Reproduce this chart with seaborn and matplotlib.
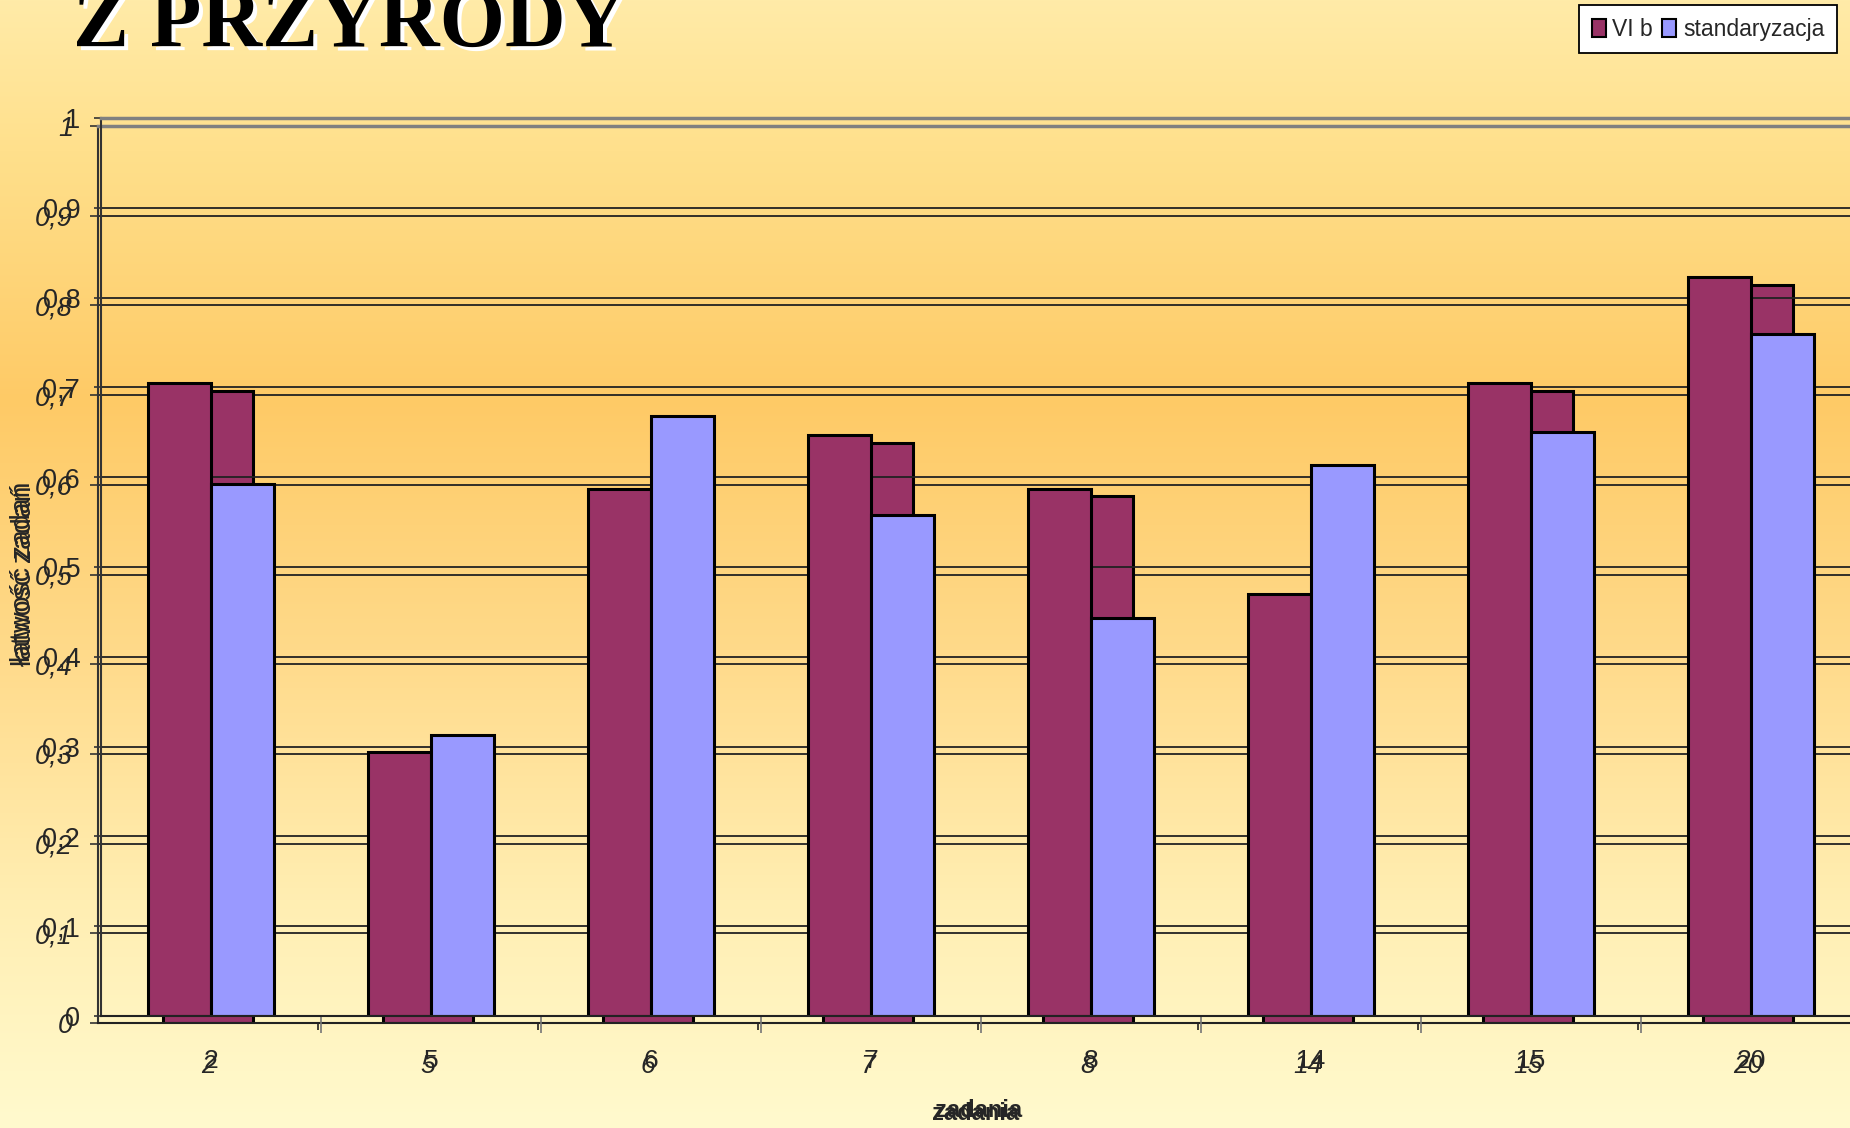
import numpy as np
import pandas as pd
import matplotlib
matplotlib.use("Agg")
import matplotlib.pyplot as plt
import seaborn as sns
from matplotlib import font_manager
from matplotlib.patches import Patch
from matplotlib.ticker import FixedLocator

# ---------------- data ----------------
zadania = ['2', '5', '6', '7', '8', '14', '15', '20']
vi_b = [0.705, 0.294, 0.587, 0.647, 0.587, 0.470, 0.705, 0.823]
standaryzacja = [0.592, 0.313, 0.668, 0.558, 0.443, 0.614, 0.650, 0.759]
series_names = ['VI b', 'standaryzacja']
yticks = [0.0, 0.1, 0.2, 0.3, 0.4, 0.5, 0.6, 0.7, 0.8, 0.9, 1.0]
ytick_labels = ['0', '0,1', '0,2', '0,3', '0,4', '0,5', '0,6', '0,7', '0,8', '0,9', '1']
title = 'Z PRZYRODY'
xlabel = 'zadania'
ylabel = 'łatwość zadań'

MAROON = '#993366'
BLUE = '#9999FF'

sns.set_theme(style='white')
available = {f.name for f in font_manager.fontManager.ttflist}
sans = 'Liberation Sans' if 'Liberation Sans' in available else 'DejaVu Sans'
narrow = 'Liberation Sans Narrow' if 'Liberation Sans Narrow' in available else sans
serif = 'Liberation Serif' if 'Liberation Serif' in available else 'DejaVu Serif'
plt.rcParams['font.family'] = [sans, 'DejaVu Sans']

W, H = 1850, 1128
fig = plt.figure(figsize=(W / 100, H / 100), dpi=100)


def px_rect(left, top, right, bottom):
    return [left / W, 1 - bottom / H, (right - left) / W, (bottom - top) / H]


# ---------------- background gradient ----------------
bg = fig.add_axes([0, 0, 1, 1], zorder=-10)
ys = np.arange(H)
stops_y = [0, 150, 400, 650, 900, H]
stops_c = np.array([[255, 235, 168], [255, 224, 140], [254, 202, 102],
                    [255, 218, 138], [255, 238, 178], [255, 250, 206]]) / 255.0
grad = np.stack([np.interp(ys, stops_y, stops_c[:, i]) for i in range(3)], axis=-1)
bg.imshow(grad[:, None, :], aspect='auto', extent=[0, 1, 0, 1])
bg.axis('off')

# ---------------- axes (back copy + front copy) ----------------
back = fig.add_axes(px_rect(98, 126, 1858, 1023), zorder=1)
front = fig.add_axes(px_rect(101, 118, 1861, 1016), zorder=2)

sns.barplot(x=zadania, y=vi_b, color=MAROON, saturation=1, width=0.41,
            edgecolor='black', linewidth=2.2, ax=back)

df = pd.DataFrame({
    'zadanie': zadania * 2,
    'wartosc': vi_b + standaryzacja,
    'seria': [series_names[0]] * len(zadania) + [series_names[1]] * len(zadania),
})
sns.barplot(data=df, x='zadanie', y='wartosc', hue='seria', order=zadania,
            hue_order=series_names, palette=[MAROON, BLUE], saturation=1,
            width=0.573, edgecolor='black', linewidth=2.2, ax=front, legend=False)

for ax, italic in ((back, True), (front, False)):
    ax.set_facecolor('none')
    ax.set_xlim(-0.5, 7.5)
    ax.set_ylim(0, 1)
    ax.set_yticks(yticks)
    ax.set_yticklabels(ytick_labels)
    ax.set_xticks(range(len(zadania)))
    ax.set_xticklabels(zadania)
    ax.yaxis.grid(True, color='#222222', lw=1.3)
    ax.xaxis.grid(False)
    ax.set_axisbelow(True)
    ax.spines['right'].set_visible(False)
    ax.spines['top'].set_color('#808080')
    ax.spines['top'].set_linewidth(2.5)
    ax.spines['left'].set_color('#333333')
    ax.spines['left'].set_linewidth(1.5)
    ax.spines['bottom'].set_color('#222222')
    ax.spines['bottom'].set_linewidth(1.5)
    ax.xaxis.set_minor_locator(FixedLocator([i + 0.5 for i in range(len(zadania) - 1)]))
    ax.set_xlabel('')
    ax.set_ylabel('')
    if italic:
        for lab in ax.get_yticklabels() + ax.get_xticklabels():
            lab.set_style('italic')

front.tick_params(axis='y', which='major', direction='out', length=5, width=1.2,
                  color='#333333', labelsize=19.5, pad=10, left=True)
back.tick_params(axis='y', which='major', direction='out', length=6, width=1.2,
                 color='#333333', labelsize=19.5, pad=12, left=True)
front.tick_params(axis='x', which='major', length=0, labelsize=19, pad=24)
back.tick_params(axis='x', which='major', length=0, labelsize=19, pad=22)
front.tick_params(axis='x', which='minor', direction='out', length=12, width=1.2,
                  color='#777777', bottom=True)
back.tick_params(axis='x', which='minor', direction='out', length=5, width=1.2,
                 color='#222222', bottom=True)

# axis titles (doubled like the original)
front.set_xlabel(xlabel, fontsize=17, fontweight='bold')
front.xaxis.set_label_coords((979 - 101) / 1760, (1016 - 1099) / 898)
back.set_xlabel(xlabel, fontsize=17, fontweight='bold')
back.xaxis.set_label_coords((976 - 98) / 1760, (1023 - 1102) / 897)
front.set_ylabel(ylabel, fontsize=20.5)
front.yaxis.set_label_coords((36 - 101) / 1760, (1016 - 572) / 898)
back.set_ylabel(ylabel, fontsize=20.5)
back.yaxis.set_label_coords((37 - 98) / 1760, (1023 - 576) / 897)

# ---------------- title with white shadow ----------------
fig.text((73 + 4) / W, 1 - (47 + 4) / H, title, fontsize=60.5, fontweight='bold',
         family=serif, color='white', va='baseline', ha='left', zorder=5)
fig.text(73 / W, 1 - 47 / H, title, fontsize=60.5, fontweight='bold',
         family=serif, color='black', va='baseline', ha='left', zorder=6)

# ---------------- legend ----------------
handles = [Patch(facecolor=MAROON, edgecolor='black', linewidth=1.5),
           Patch(facecolor=BLUE, edgecolor='black', linewidth=1.5)]
leg = fig.legend(handles=handles, labels=series_names, loc='upper right',
                 bbox_to_anchor=(1837 / W, 1 - 5 / H), ncol=2,
                 prop={'family': narrow, 'size': 16.5}, frameon=True,
                 fancybox=False, edgecolor='black', facecolor='white',
                 framealpha=1, handlelength=0.6, handleheight=0.85,
                 handletextpad=0.3, columnspacing=0.4, borderpad=0.55,
                 borderaxespad=0)
leg.get_frame().set_linewidth(1.3)
leg.set_zorder(10)

fig.savefig('out.png', dpi=100)
